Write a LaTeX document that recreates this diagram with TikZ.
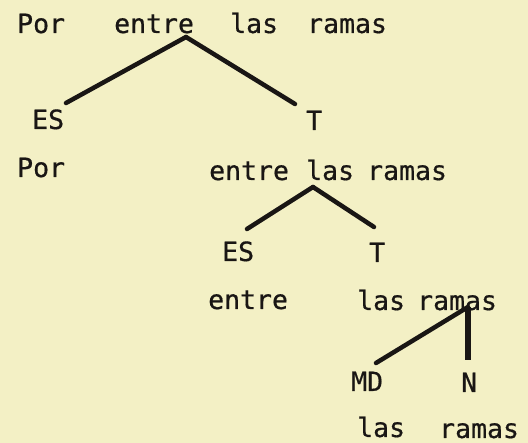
\documentclass[tikz,border=0pt]{standalone}
\usepackage{fontspec}
\newfontfamily\typew[FakeBold=0.6]{DejaVu Sans Mono}
\definecolor{paper}{RGB}{243,240,197}
\definecolor{ink}{RGB}{25,22,20}
\begin{document}
\begin{tikzpicture}[x=1pt,y=-1pt,
  word/.style={anchor=base west,inner sep=0pt,text=ink,font=\typew\fontsize{26.5}{26.5}\selectfont},
  branch/.style={draw=ink,line width=4.5pt,line cap=round},
  trunk/.style={draw=ink,line width=6.5pt}]
\fill[paper] (0,0) rectangle (528,443);
\useasboundingbox (0,0) rectangle (528,443);
% row 1
\node[word] (p1) at (17,33) {Por};
\node[word] (e1) at (114,33) {entre};
\node[word] (l1) at (230,33) {las};
\node[word] (r1) at (307,33) {ramas};
\node[word] (es1) at (32,129) {ES};
\node[word] (t1) at (306,130) {T};
\coordinate (a1) at (186,37);
\coordinate (a1l) at (66,103);
\coordinate (a1r) at (295,104);
\draw[branch] (a1) -- (a1l);
\draw[branch] (a1) -- (a1r);
% row 3
\node[word] (p2) at (17,177) {Por};
\node[word] (e2) at (209,180) {entre};
\node[word] (l2) at (306,180) {las};
\node[word] (r2) at (367,180) {ramas};
\node[word] (es2) at (222,261) {ES};
\node[word] (t2) at (369,262) {T};
\coordinate (a2) at (313,187);
\coordinate (a2l) at (247,229);
\coordinate (a2r) at (374,227);
\draw[branch] (a2) -- (a2l);
\draw[branch] (a2) -- (a2r);
% row 5
\node[word] (e3) at (208,309) {entre};
\node[word] (l3) at (357,310) {las};
\node[word] (r3) at (417,310) {ramas};
\node[word] (md) at (351,391) {MD};
\node[word] (n) at (461,392) {N};
\coordinate (a3) at (468,307);
\coordinate (a3l) at (376,363);
\coordinate (a3r) at (468,360);
\draw[branch] (a3) -- (a3l);
\draw[trunk] (a3) -- (a3r);
% row 7
\node[word] (l4) at (357,437) {las};
\node[word] (r4) at (439,438) {ramas};
\end{tikzpicture}
\end{document}
